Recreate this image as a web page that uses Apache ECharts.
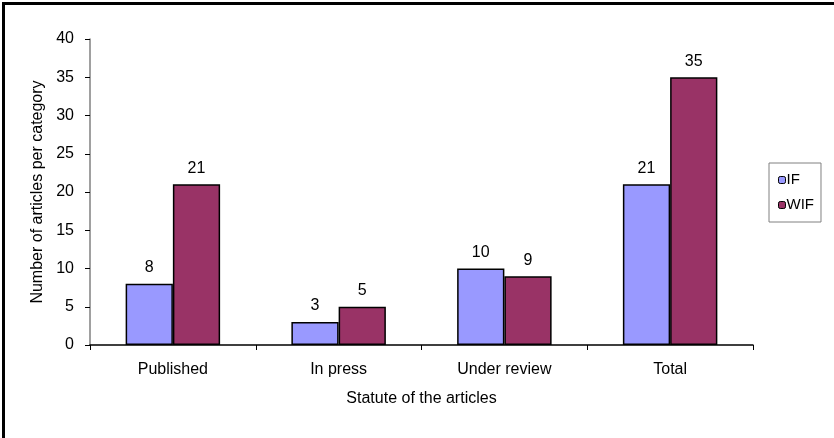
<!DOCTYPE html>
<html>
<head>
<meta charset="utf-8">
<script src="https://cdn.jsdelivr.net/npm/echarts@6/dist/echarts.min.js"></script>
<style>
html,body{margin:0;padding:0;background:#fff;}
#chart{width:834px;height:438px;}
</style>
</head>
<body>
<div id="chart"></div>
<script>
const categories = ['Published', 'In press', 'Under review', 'Total'];
const seriesNames = ['IF', 'WIF'];
const ifValues = [8, 3, 10, 21];
const wifValues = [21, 5, 9, 35];
const yTicks = [0, 5, 10, 15, 20, 25, 30, 35, 40];

const font = 'Liberation Sans, Arial, sans-serif';
const chart = echarts.init(document.getElementById('chart'), null, {renderer: 'canvas'});
const labelCfg = {show: true, position: 'top', distance: 8, color: '#000', fontSize: 16, fontFamily: font};

chart.setOption({
  animation: false,
  backgroundColor: '#fff',
  textStyle: {fontFamily: font},
  grid: {left: 90, right: 81, top: 39, bottom: 93, containLabel: false},
  legend: {
    data: seriesNames,
    orient: 'vertical',
    left: 769,
    top: 163,
    padding: [9, 7, 9, 9],
    itemGap: 9,
    itemWidth: 7,
    itemHeight: 7,
    borderColor: '#808080',
    borderWidth: 1,
    itemStyle: {borderColor: '#000', borderWidth: 1},
    textStyle: {fontSize: 15, color: '#000', fontFamily: font, lineHeight: 16, padding: [0, 0, 0, -4]}
  },
  xAxis: {
    type: 'category',
    data: categories,
    name: 'Statute of the articles',
    nameLocation: 'middle',
    nameGap: 46,
    nameTextStyle: {fontSize: 16, color: '#000', fontFamily: font},
    axisLine: {lineStyle: {color: '#000', width: 1.5}},
    axisTick: {show: true, alignWithLabel: false, length: 5, lineStyle: {color: '#000'}},
    axisLabel: {fontSize: 16, color: '#000', margin: 17, fontFamily: font}
  },
  yAxis: {
    type: 'value',
    min: yTicks[0],
    max: yTicks[yTicks.length - 1],
    interval: 5,
    name: 'Number of articles per category',
    nameLocation: 'middle',
    nameGap: 42,
    nameTextStyle: {fontSize: 16, color: '#000', fontFamily: font},
    axisLine: {show: true, lineStyle: {color: '#808080', width: 1.5}},
    axisTick: {show: true, length: 5, lineStyle: {color: '#000'}},
    splitLine: {show: false},
    axisLabel: {fontSize: 16, color: '#000', margin: 16, fontFamily: font}
  },
  series: [
    {
      name: seriesNames[0], type: 'bar', data: ifValues,
      barGap: '0%', barCategoryGap: '43%',
      itemStyle: {color: '#9999FF', borderColor: '#000', borderWidth: 1.5},
      label: labelCfg
    },
    {
      name: seriesNames[1], type: 'bar', data: wifValues,
      barGap: '0%', barCategoryGap: '43%',
      itemStyle: {color: '#993366', borderColor: '#000', borderWidth: 1.5},
      label: labelCfg
    }
  ],
  graphic: [
    {type: 'line', shape: {x1: 2, y1: 3.5, x2: 834, y2: 3.5}, style: {stroke: '#000', lineWidth: 3}},
    {type: 'line', shape: {x1: 3.5, y1: 2, x2: 3.5, y2: 438}, style: {stroke: '#000', lineWidth: 3}}
  ]
});
</script>
</body>
</html>
